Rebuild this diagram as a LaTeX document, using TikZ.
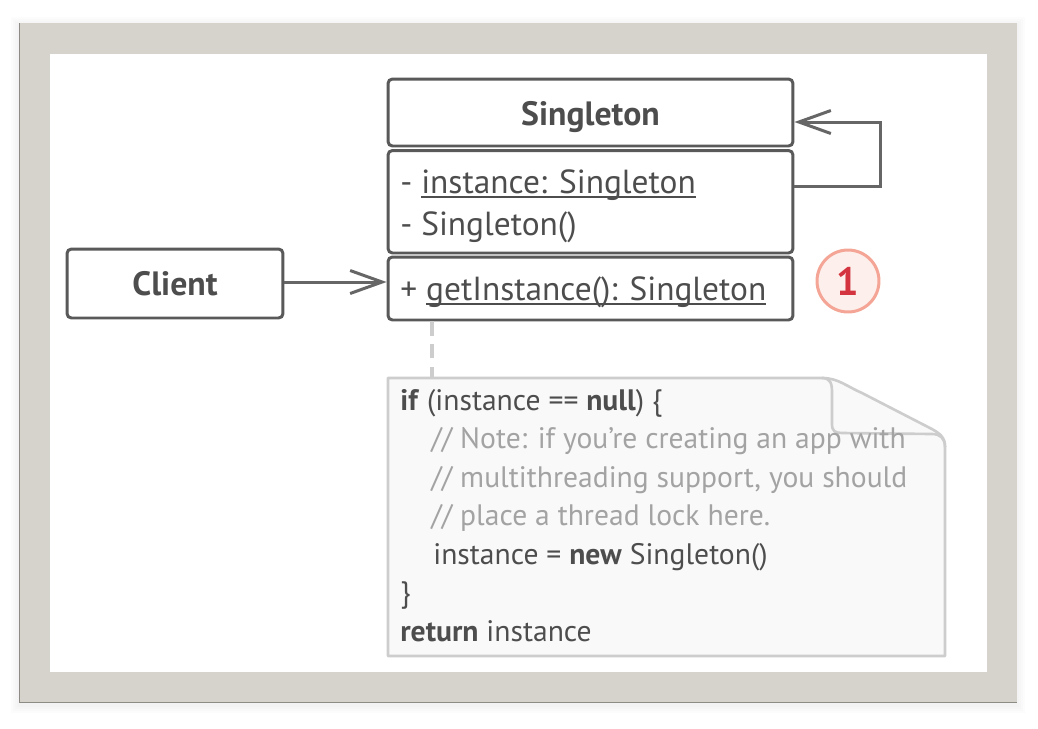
\documentclass[tikz,border=0pt]{standalone}
\usepackage{fontspec}
\setmainfont{PT Sans}
\usetikzlibrary{arrows.meta,positioning}

\definecolor{framegray}{HTML}{D6D3CC}
\definecolor{frameedge}{HTML}{8E8B85}
\definecolor{boxline}{HTML}{595959}
\definecolor{arrowline}{HTML}{666666}
\definecolor{textdark}{HTML}{4D4D4D}
\definecolor{notefill}{HTML}{F9F9F9}
\definecolor{noteline}{HTML}{CDCDCD}
\definecolor{commentgray}{HTML}{A3A3A3}
\definecolor{stepfill}{HTML}{FDEFEB}
\definecolor{stepline}{HTML}{F4A595}
\definecolor{stepred}{HTML}{D4343F}

\newsavebox{\ulbox}
\newcommand{\ulstatic}[1]{\sbox{\ulbox}{#1}\rlap{\rule[-2.6pt]{\wd\ulbox}{0.9pt}}\usebox{\ulbox}}

\tikzstyle{classbox} = [draw=boxline,line width=1.7pt,rounded corners=2.5pt,fill=white,inner sep=0pt]
\tikzstyle{classname} = [font=\fontsize{19.2}{23}\selectfont\bfseries,text=textdark]
\tikzstyle{member} = [anchor=base west,inner sep=0pt,text=textdark,font=\fontsize{19}{23}\selectfont]
\tikzstyle{codeline} = [anchor=base west,inner sep=0pt,text=textdark,font=\fontsize{16.85}{20}\selectfont]
\tikzstyle{assoc} = [draw=arrowline,line width=1.7pt,-{Straight Barb[length=0.64cm,width=0.46cm]}]
\tikzstyle{notebody} = [draw=noteline,fill=notefill,line width=1.5pt,line join=round]
\tikzstyle{notelink} = [draw=noteline,line width=1.8pt,dash pattern=on 8pt off 5pt]
\tikzstyle{stepmark} = [circle,draw=stepline,fill=stepfill,line width=1.7pt,minimum size=1.24cm,inner sep=0pt,text=stepred,font=\fontsize{22.5}{26}\selectfont\bfseries]

\begin{document}
\begin{tikzpicture}[x=0.02cm,y=-0.02cm]
      \useasboundingbox (0,0) rectangle (1038,728);
      %frame
      \foreach \s in {2,4,6,8}
        \fill[black,opacity=0.012] (19-\s,23-\s+2) rectangle (1017+\s,703+\s+2);
      \fill[framegray] (19,23) rectangle (1017,703);
      \draw[frameedge,line width=0.6pt] (19.5,23) -- (19.5,702.5) -- (1017,702.5);
      \fill[white] (50,54) rectangle (987,672);

      %class boxes
      \node[classbox,minimum width=8.1cm,minimum height=1.34cm] (header) at (590.5,112.5) {};
      \node[classbox,minimum width=8.1cm,minimum height=2.05cm] (fields) at (590.5,201.75) {};
      \node[classbox,minimum width=8.1cm,minimum height=1.26cm] (methods) at (590.5,288.5) {};
      \node[classbox,minimum width=4.32cm,minimum height=1.38cm] (client) at (175,283.5) {};

      \node[classname,anchor=base] (headertext) at (590.5,125) {Singleton};
      \node[classname,anchor=base] (clienttext) at (175,295) {Client};
      \node[member] (field1) at (400,193) {- \ulstatic{instance: Singleton}};
      \node[member] (field2) at (400,235) {- Singleton()};
      \node[member] (method1) at (400,300) {+ \ulstatic{getInstance(): Singleton}};

      \node[stepmark] (step1) at (848,281) {1};

      %edges
      \coordinate (looptop) at (880,122);
      \coordinate (loopbot) at (880,186);
      \draw[assoc] (client.east |- 0,282) -- (methods.west |- 0,282);
      \draw[assoc] (fields.east |- loopbot) -- (loopbot) -- (looptop) -- (header.east |- looptop);

      %note
      \coordinate (notetop) at (432,378);
      \draw[notelink] (methods.south -| notetop) -- (notetop);
      \draw[notebody] (388,378) -- (822,378) .. controls (838,378) and (846,386) .. (862,393)
        -- (928,427) .. controls (940,433) and (945,437) .. (945,447) -- (945,656) -- (388,656) -- cycle;
      \draw[draw=noteline,line width=1.5pt] (822,378) .. controls (830,378) and (832,383) .. (832,392)
        -- (832,424) .. controls (832,431) and (835,433) .. (842,433) -- (932,434)
        .. controls (940,434) and (945,438) .. (945,447);

      \foreach \i/\x/\txt in {
        1/400/{\textbf{if} (instance == \textbf{null}) \{},
        2/431/{\color{commentgray}// Note: if you’re creating an app with},
        3/431/{\color{commentgray}// multithreading support, you should},
        4/431/{\color{commentgray}// place a thread lock here.},
        5/433/{instance = \textbf{new} Singleton()},
        6/400/{\}},
        7/400/{\textbf{return} instance}}
      {
        \node[codeline] (code\i) at (\x,{371.5+38.5*\i}) {\txt};
      };
\end{tikzpicture}
\end{document}
